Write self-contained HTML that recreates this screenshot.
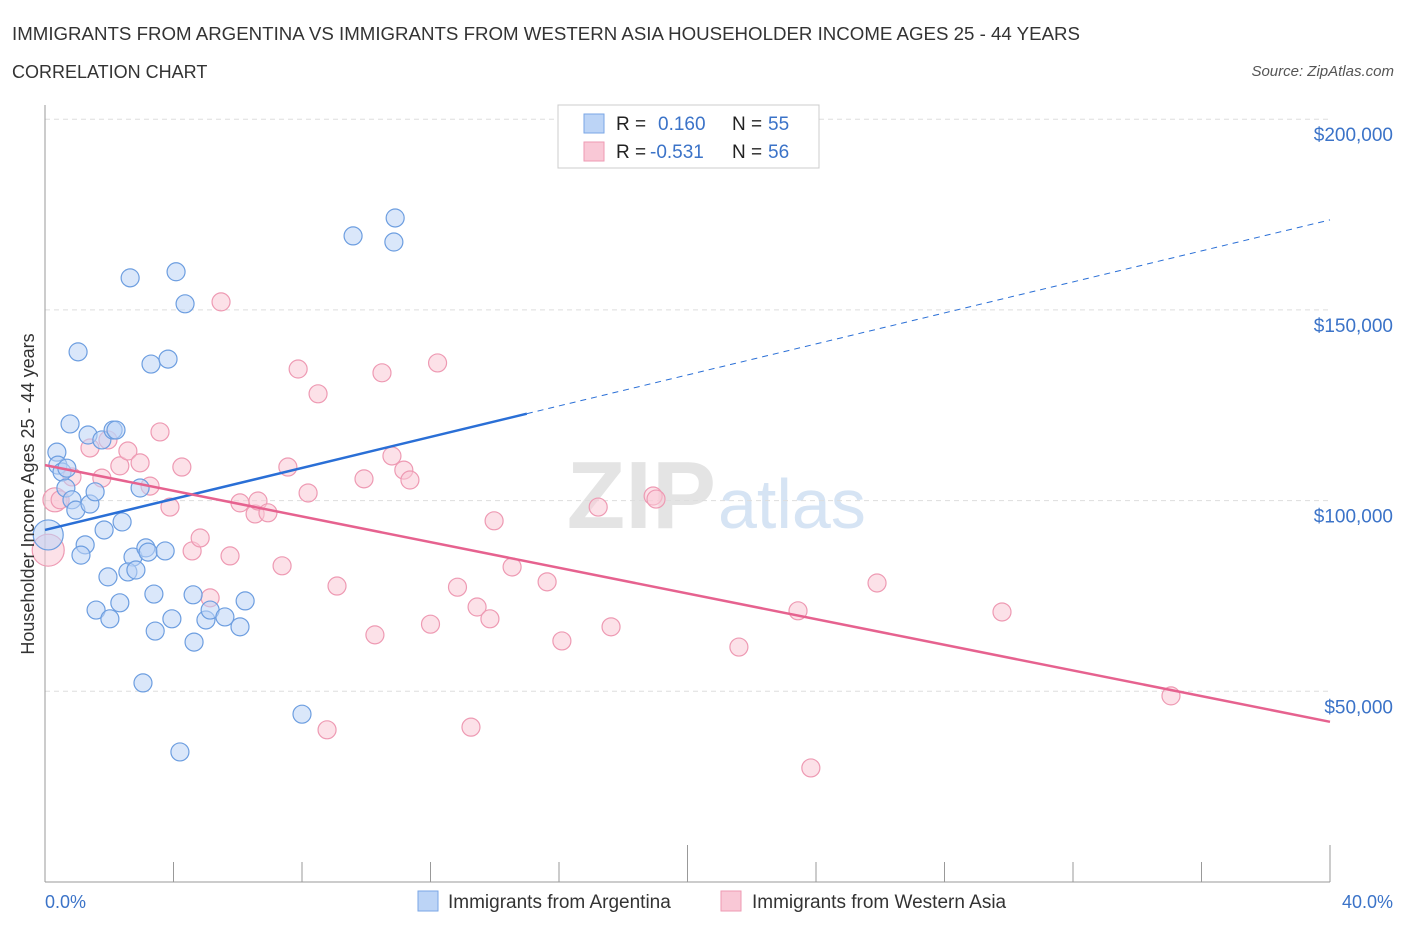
<!DOCTYPE html>
<html><head><meta charset="utf-8"><style>
body{margin:0;background:#fff;font-family:"Liberation Sans",sans-serif;}
text{font-family:"Liberation Sans",sans-serif;}
</style></head><body>
<svg id="chart" width="1406" height="930" xmlns="http://www.w3.org/2000/svg">
<text x="12" y="40" font-size="18" fill="#333" textLength="1068" lengthAdjust="spacingAndGlyphs">IMMIGRANTS FROM ARGENTINA VS IMMIGRANTS FROM WESTERN ASIA HOUSEHOLDER INCOME AGES 25 - 44 YEARS</text>
<text x="12" y="78" font-size="18" fill="#333">CORRELATION CHART</text>
<text x="1394" y="76" font-size="15" fill="#555" font-style="italic" text-anchor="end">Source: ZipAtlas.com</text>
<text x="716" y="528" font-size="96" fill="#e4e4e4" text-anchor="end" font-weight="bold" font-family="Liberation Serif">ZIP</text>
<text x="718" y="528" font-size="70" fill="#d6e4f4">atlas</text>
<g id="grid"></g>
<g id="axes"></g>
<g id="marks"></g>
<text transform="translate(34,494) rotate(-90)" font-size="18" fill="#333" text-anchor="middle">Householder Income Ages 25 - 44 years</text>
<text x="45" y="908" font-size="18" fill="#3b73c8">0.0%</text>
<text x="1393" y="908" font-size="18" fill="#3b73c8" text-anchor="end">40.0%</text>
<g>
<rect x="558" y="105" width="261" height="63" fill="#fff" stroke="#ccc"/>
<rect x="584" y="114" width="20" height="19" fill="#bcd4f6" stroke="#7aa6e6"/>
<rect x="584" y="142" width="20" height="19" fill="#f9c8d6" stroke="#ee9ab3"/>
<text x="616" y="130" font-size="19" fill="#222">R =</text>
<text x="658" y="130" font-size="19" fill="#3b73c8">0.160</text>
<text x="732" y="130" font-size="19" fill="#222">N =</text>
<text x="768" y="130" font-size="19" fill="#3b73c8">55</text>
<text x="616" y="158" font-size="19" fill="#222">R =</text>
<text x="650" y="158" font-size="19" fill="#3b73c8">-0.531</text>
<text x="732" y="158" font-size="19" fill="#222">N =</text>
<text x="768" y="158" font-size="19" fill="#3b73c8">56</text>
</g>
<g>
<rect x="418" y="891" width="20" height="20" fill="#bcd4f6" stroke="#7aa6e6"/>
<text x="448" y="908" font-size="19" fill="#333">Immigrants from Argentina</text>
<rect x="721" y="891" width="20" height="20" fill="#f9c8d6" stroke="#ee9ab3"/>
<text x="752" y="908" font-size="19" fill="#333">Immigrants from Western Asia</text>
</g>
</svg>
<script>
const yTicks=[50000,100000,150000,200000];
const yTickLabels=["$50,000","$100,000","$150,000","$200,000"];
const blueX=[0.1,0.37,0.40,0.53,0.68,0.78,0.65,0.84,0.96,1.03,1.25,1.12,1.34,1.40,1.56,1.59,1.77,1.84,1.96,2.02,2.12,2.21,2.33,2.40,2.65,2.74,2.58,2.83,2.96,3.05,3.14,3.21,3.30,3.43,3.39,3.74,3.83,3.95,4.08,4.20,4.36,4.61,4.64,5.01,5.14,5.60,6.07,6.23,8.0,9.59,10.86,10.90];
const blueY=[91.0,112.7,109.3,107.5,108.5,120.1,103.3,100.2,97.5,139.0,88.4,85.7,117.2,99.1,102.3,71.3,115.9,92.3,80.0,69.0,118.5,118.5,73.2,94.4,158.4,85.2,81.3,81.8,103.3,52.2,87.6,86.5,135.8,65.8,75.5,86.8,137.1,69.0,160.0,34.1,151.6,75.3,62.9,68.7,71.3,69.5,66.9,73.7,44.0,169.4,167.8,174.1];
const pinkX=[0.1,0.31,0.47,0.84,1.40,1.77,1.96,2.33,2.58,2.96,3.27,3.58,3.89,4.26,4.58,4.83,5.14,5.48,5.76,6.07,6.54,6.63,6.94,7.38,7.56,7.88,8.19,8.50,8.78,9.09,9.93,10.27,10.49,10.80,11.17,11.36,12.0,12.22,12.84,13.26,13.45,13.85,13.98,14.54,15.63,16.09,17.22,17.62,18.93,19.02,21.60,23.44,23.84,25.90,29.79,35.05];
const pinkY=[87.0,100.2,100.2,106.2,113.8,105.9,115.9,109.1,113.0,109.9,103.8,118.0,98.3,108.8,86.8,90.2,74.5,152.1,85.5,99.4,96.5,99.9,96.8,82.9,108.8,134.5,102.0,128.0,39.9,77.6,105.7,64.8,133.5,111.7,108.0,105.4,67.6,136.1,77.3,40.6,72.1,69.0,94.7,82.6,78.7,63.2,98.3,66.9,101.2,100.4,61.6,71.1,29.9,78.4,70.8,48.8];
const blueLine=[92.3,173.6]; const blueSolidEnd=15.0;
const pinkLine=[109.3,42.0];
const NS='http://www.w3.org/2000/svg';
const sx=v=>45+v/40*1285;
const sy=v=>882-v/50000*190.7;
const syk=v=>sy(v*1000);
function mk(tag,attrs,parent){const e=document.createElementNS(NS,tag);for(const k in attrs)e.setAttribute(k,attrs[k]);parent.appendChild(e);return e;}
const grid=document.getElementById('grid'),axes=document.getElementById('axes'),marks=document.getElementById('marks');
yTicks.forEach((t,i)=>{
 const l=mk('line',{x1:45,x2:1330,y1:sy(t),y2:sy(t),stroke:'#ddd','stroke-dasharray':'5,4'},grid);
 
 
 const tx=mk('text',{x:1393,y:sy(t)+22,'font-size':19,fill:'#3b73c8','text-anchor':'end'},grid);
 tx.textContent=yTickLabels[i];
 
 
});
const ya=mk('line',{x1:45,x2:45,y1:105,y2:882,stroke:'#999'},axes);


const xa=mk('line',{x1:45,x2:1330,y1:882,y2:882,stroke:'#999'},axes);


for(let i=0;i<=10;i++){const t=mk('line',{x1:sx(i*4),x2:sx(i*4),y1:882,y2:i%5==0?845:862,stroke:'#999'},axes);
 
 }
function dots(xs,ys,fill,stroke,name){xs.forEach((x,i)=>{
 const r=i==0?(name=='point-western-asia'?16:15):(i==1&&name=='point-western-asia'?12:9);
 const c=mk('circle',{cx:sx(x),cy:syk(ys[i]),r:r,fill:fill,'fill-opacity':0.55,stroke:stroke,'stroke-width':1.2},marks);
 
 });}
dots(pinkX,pinkY,'#f9c8d6','#ee9ab3','point-western-asia');
dots(blueX,blueY,'#bcd4f6','#6d9ee0','point-argentina');
const bAt=x=>blueLine[0]+(blueLine[1]-blueLine[0])*x/40;
const b1=mk('line',{x1:sx(0),y1:syk(bAt(0)),x2:sx(blueSolidEnd),y2:syk(bAt(blueSolidEnd)),stroke:'#2a6fd6','stroke-width':2.5},marks);


const b2=mk('line',{x1:sx(blueSolidEnd),y1:syk(bAt(blueSolidEnd)),x2:sx(40),y2:syk(bAt(40)),stroke:'#2a6fd6','stroke-width':1,'stroke-dasharray':'6,5'},marks);


const p1=mk('line',{x1:sx(0),y1:syk(pinkLine[0]),x2:sx(40),y2:syk(pinkLine[1]),stroke:'#e6628f','stroke-width':2.5},marks);


</script>
</body></html>
